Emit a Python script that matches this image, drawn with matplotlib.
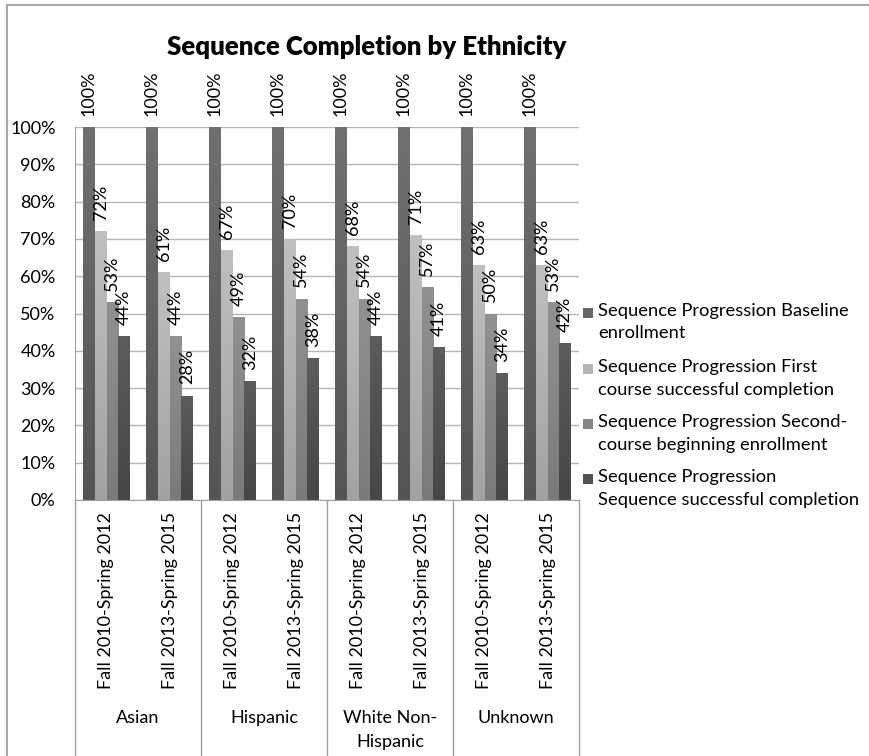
import matplotlib
matplotlib.use("Agg")
import matplotlib.pyplot as plt
import numpy as np
from matplotlib.colors import LinearSegmentedColormap
from matplotlib.patches import Rectangle
from matplotlib.lines import Line2D
import matplotlib.transforms as mtransforms

# ---------------- data ----------------
ethnicities = ["Asian", "Hispanic", "White Non-\nHispanic", "Unknown"]
periods = ["Fall 2010-Spring 2012", "Fall 2013-Spring 2015"]
series_names = [
    "Sequence Progression Baseline\nenrollment",
    "Sequence Progression First\ncourse successful completion",
    "Sequence Progression Second-\ncourse beginning enrollment",
    "Sequence Progression\nSequence successful completion",
]
baseline_enroll = [100, 100, 100, 100, 100, 100, 100, 100]
first_course = [72, 61, 67, 70, 68, 71, 63, 63]
second_course = [53, 44, 49, 54, 54, 57, 50, 53]
sequence_done = [44, 28, 32, 38, 44, 41, 34, 42]
y_ticks = [0, 10, 20, 30, 40, 50, 60, 70, 80, 90, 100]
title = "Sequence Completion by Ethnicity"

# ---------------- style ----------------
plt.rcParams['font.family'] = ['Lato', 'DejaVu Sans']
W, H = 869, 756
fig = plt.figure(figsize=(W / 100, H / 100), dpi=100)
fig.patch.set_facecolor('white')

ax_left, ax_right, ax_top, ax_bot = 75, 579, 127, 500
ax = fig.add_axes([ax_left / W, 1 - ax_bot / H, (ax_right - ax_left) / W, (ax_bot - ax_top) / H])

series = [baseline_enroll, first_course, second_course, sequence_done]
grad_cols = [("#545454", "#707070"), ("#a2a2a2", "#c0c0c0"),
             ("#7a7a7a", "#919191"), ("#464646", "#5c5c5c")]
legend_cols = ["#666666", "#b5b5b5", "#868686", "#525252"]

FS = 13

n = len(ethnicities) * len(periods)
x = np.arange(n)
bw = 0.1875
offsets = (np.arange(4) - 1.5) * bw

grad = np.linspace(0, 1, 256).reshape(-1, 1)
for si, vals in enumerate(series):
    bars = ax.bar(x + offsets[si], vals, width=bw, color=legend_cols[si],
                  linewidth=0, zorder=2)
    cmap = LinearSegmentedColormap.from_list(f"g{si}", list(grad_cols[si]))
    for p, v, xb in zip(bars.patches, vals, x + offsets[si]):
        x0, y0 = p.get_xy()
        im = ax.imshow(grad, cmap=cmap, extent=[x0, x0 + p.get_width(), y0, y0 + p.get_height()],
                       origin='lower', aspect='auto', zorder=2.1, interpolation='bilinear')
        im.set_clip_path(p)
        ax.annotate(f"{v}%", xy=(xb, v), xytext=(0, 8), textcoords='offset points',
                    rotation=90, ha='center', va='bottom', fontsize=FS,
                    annotation_clip=False, zorder=5)

ax.set_xlim(-0.5, n - 0.5)
ax.set_ylim(0, 100)
ax.set_yticks(y_ticks)
ax.set_yticklabels([f"{t}%" for t in y_ticks])
ax.tick_params(axis='y', length=0, pad=14, labelsize=FS)
ax.set_xticks([])
ax.yaxis.grid(True, color='#b5b5b5', linewidth=1)
ax.set_axisbelow(True)
for s in ['top', 'right']:
    ax.spines[s].set_visible(False)
ax.spines['left'].set_color('#a0a0a0')
ax.spines['bottom'].set_color('#a0a0a0')
ax.set_facecolor('none')

# category axis (two levels)
trans = mtransforms.blended_transform_factory(ax.transData, ax.transAxes)
ax_h = ax_bot - ax_top
for i in range(len(ethnicities) + 1):
    xs = -0.5 + i * len(periods)
    ax.add_line(Line2D([xs, xs], [0, -(H - ax_bot) / ax_h - 0.01], transform=trans,
                       color='#a0a0a0', linewidth=1, clip_on=False))
for i in range(n):
    ax.text(x[i], -(512 - ax_bot) / ax_h, periods[i % len(periods)], transform=trans,
            rotation=90, ha='center', va='top', fontsize=FS)
for j, eth in enumerate(ethnicities):
    xc = j * len(periods) + (len(periods) - 1) / 2
    ax.text(xc, -(710 - ax_bot) / ax_h, eth, transform=trans, ha='center', va='top',
            fontsize=FS, multialignment='center', linespacing=1.65)

# title
fig.text(367 / W, 1 - 47 / H, title, ha='center', va='center', fontsize=18.5, fontweight='heavy')

# legend (manual, marker aligned with first line as in the reference)
leg_y = [313, 369, 424, 479]
for si in range(4):
    fig.patches.append(Rectangle((583 / W, 1 - (leg_y[si] + 5) / H), 10 / W, 10 / H,
                                 transform=fig.transFigure, facecolor=legend_cols[si],
                                 edgecolor='none'))
    fig.text(598 / W, 1 - (leg_y[si] - 10) / H, series_names[si], ha='left', va='top',
             fontsize=13.2, linespacing=1.5)

# chart border
fig.add_artist(Line2D([7 / W, 1.0], [1 - 5 / H, 1 - 5 / H], transform=fig.transFigure,
                      color='#a8a8a8', linewidth=1.5))
fig.add_artist(Line2D([7 / W, 7 / W], [1 - 5 / H, 0], transform=fig.transFigure,
                      color='#a8a8a8', linewidth=1.5))

fig.savefig("out.png", dpi=100)
